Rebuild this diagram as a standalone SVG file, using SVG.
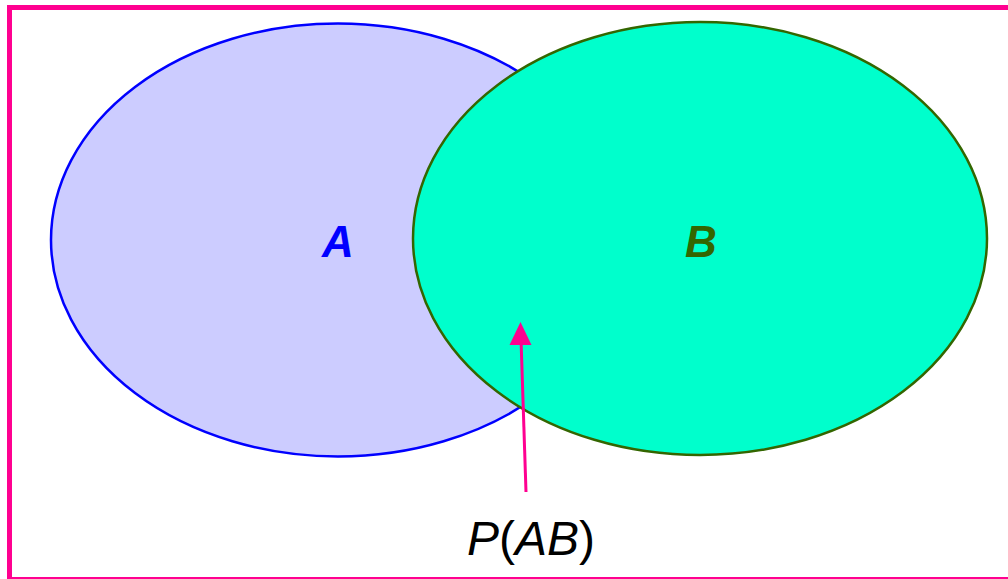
<svg xmlns="http://www.w3.org/2000/svg" width="1008" height="579" viewBox="0 0 1008 579">
<style>
.lbl{font-family:"Liberation Sans",Arial,sans-serif;font-size:44px;font-weight:bold;font-style:italic;text-anchor:middle}
.pab{font-family:"Liberation Sans",Arial,sans-serif;font-size:48px;text-anchor:middle;fill:#000}
</style>
<rect x="0" y="0" width="1008" height="579" fill="#fff"/>
<rect id="frame" x="9.5" y="7.5" width="1003" height="572" fill="none" stroke="#FF0090" stroke-width="5"/>
<g id="nodeA">
<ellipse cx="338" cy="240" rx="287" ry="216.5" fill="#CCCCFF" stroke="#0000FF" stroke-width="2.5"/>
<text class="lbl" x="338" y="257" fill="#0000FF">A</text>
</g>
<g id="nodeB">
<ellipse cx="700" cy="238.5" rx="287" ry="216.5" fill="#00FFCC" stroke="#336600" stroke-width="2.5"/>
<text class="lbl" x="701" y="257" fill="#336600">B</text>
</g>
<g id="connectors">
<line x1="526" y1="492" x2="521.2" y2="345" stroke="#FF0090" stroke-width="3"/>
<path d="M520.5,322 L509.5,345 L531.5,345 Z" fill="#FF0090"/>
</g>
<g id="label">
<text class="pab" x="531" y="555"><tspan font-style="italic">P</tspan>(<tspan font-style="italic">AB</tspan>)</text>
</g>
</svg>
